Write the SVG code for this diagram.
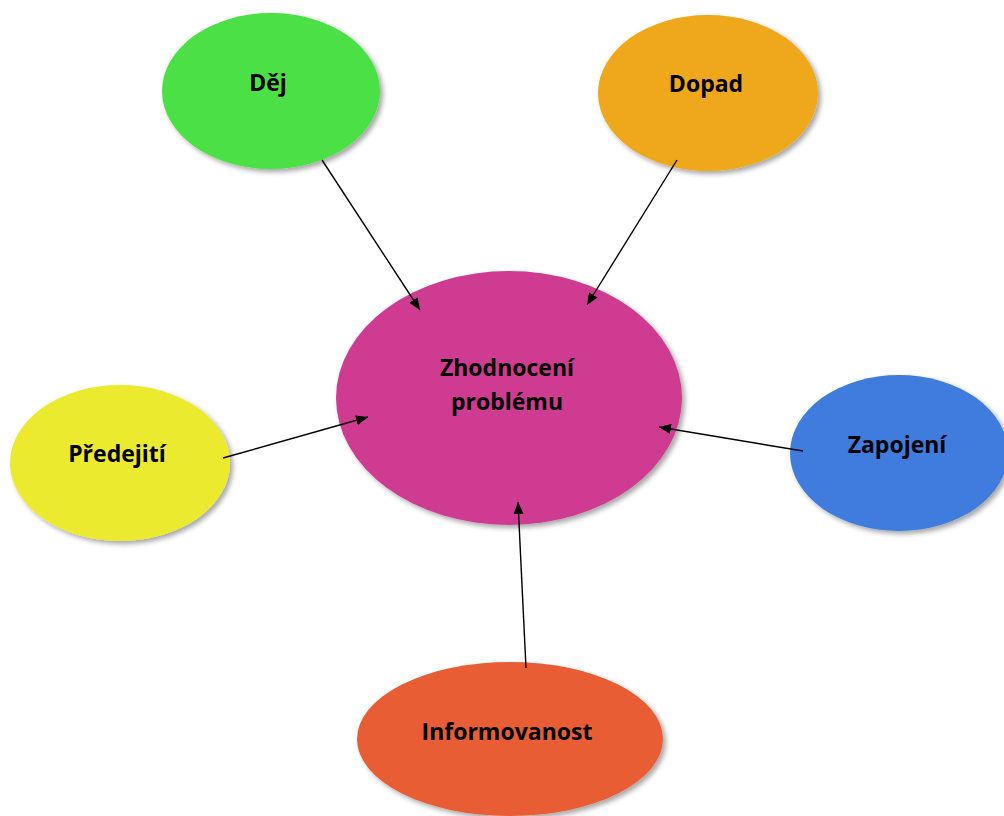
<svg xmlns="http://www.w3.org/2000/svg" width="1004" height="816" viewBox="0 0 1004 816">
  <style>
    .lbl { font-family: "Open Sans", "Liberation Sans", sans-serif; font-weight: bold; font-size: 23px; fill: #000; text-anchor: middle; }
    .conn { stroke: #000; stroke-width: 1.4; fill: none; marker-end: url(#arrow); }
    .node { filter: url(#shadow); }
  </style>
  <defs>
    <filter id="shadow" x="-10%" y="-10%" width="125%" height="130%">
      <feDropShadow dx="3" dy="3" stdDeviation="2.5" flood-color="#000" flood-opacity="0.35"/>
    </filter>
    <marker id="arrow" markerUnits="userSpaceOnUse" markerWidth="13" markerHeight="11" refX="12" refY="5" orient="auto">
      <path d="M0,0 L12,5 L0,10 z" fill="#000"/>
    </marker>
  </defs>
  <rect width="1004" height="816" fill="#fff"/>

  <g id="node-zhodnoceni">
    <ellipse class="node" cx="509" cy="398" rx="173" ry="127" fill="#CE3B91"/>
    <text class="lbl" x="507" y="376">Zhodnocení</text>
    <text class="lbl" x="507" y="410">problému</text>
  </g>
  <g id="node-dej">
    <ellipse class="node" cx="271" cy="91" rx="109" ry="78" fill="#4BE044"/>
    <text class="lbl" x="268" y="91">Děj</text>
  </g>
  <g id="node-dopad">
    <ellipse class="node" cx="708" cy="93" rx="110" ry="78" fill="#EFA81C"/>
    <text class="lbl" x="706" y="92">Dopad</text>
  </g>
  <g id="node-predejiti">
    <ellipse class="node" cx="120" cy="463" rx="110" ry="78" fill="#ECEA2F"/>
    <text class="lbl" x="117" y="462">Předejití</text>
  </g>
  <g id="node-zapojeni">
    <ellipse class="node" cx="899" cy="453" rx="109" ry="78" fill="#3F7CDD"/>
    <text class="lbl" x="897" y="453">Zapojení</text>
  </g>
  <g id="node-informovanost">
    <ellipse class="node" cx="510" cy="739" rx="153" ry="77" fill="#E95D36"/>
    <text class="lbl" x="507" y="740">Informovanost</text>
  </g>

  <g id="connectors">
    <line class="conn" x1="322" y1="160" x2="420" y2="310"/>
    <line class="conn" x1="677" y1="160" x2="587" y2="305"/>
    <line class="conn" x1="223" y1="458" x2="368" y2="417"/>
    <line class="conn" x1="803" y1="451" x2="659" y2="427"/>
    <line class="conn" x1="526" y1="668" x2="518" y2="502"/>
  </g>
</svg>
